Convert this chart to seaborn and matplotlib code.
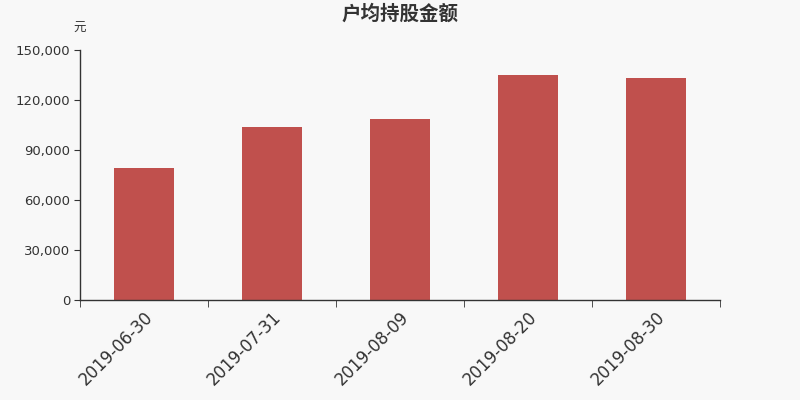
import matplotlib
matplotlib.use('Agg')
from matplotlib import pyplot as plt
from matplotlib.ticker import FuncFormatter, FixedLocator
import pandas as pd
import seaborn as sns

dates = ['2019-06-30', '2019-07-31', '2019-08-09', '2019-08-20', '2019-08-30']
amount = [79200, 103800, 108600, 135000, 133200]
yticks = [0, 30000, 60000, 90000, 120000, 150000]

df = pd.DataFrame({'date': dates, 'amount': amount})

sns.set_style('white')
plt.rcParams['font.family'] = ['DejaVu Sans', 'Noto Sans CJK SC']

bg = '#f8f8f8'
fig = plt.figure(figsize=(8, 4), dpi=100, facecolor=bg)
ax = fig.add_axes([0.1, 0.25, 0.8, 0.625], facecolor=bg)

sns.barplot(data=df, x='date', y='amount', color='#c0504d', saturation=1,
            width=0.47, linewidth=0, ax=ax)

ax.set_xlim(-0.5, len(dates) - 0.5)
ax.set_ylim(0, 150000)
ax.set_yticks(yticks)
ax.yaxis.set_major_formatter(FuncFormatter(lambda v, p: f'{int(v):,}'))
ax.tick_params(axis='y', left=True, length=4, color='#333333', labelsize=9.5,
               labelcolor='#333333', pad=3)

# category boundaries get the tick marks, labels sit at centers
ax.xaxis.set_minor_locator(FixedLocator([i - 0.5 for i in range(len(dates) + 1)]))
ax.tick_params(axis='x', which='minor', bottom=True, length=5, color='#333333')
ax.tick_params(axis='x', which='major', length=0, labelsize=12,
               labelcolor='#333333', pad=6)
for lab in ax.get_xticklabels():
    lab.set_rotation(45)
    lab.set_ha('right')
    lab.set_rotation_mode('anchor')

for side in ['top', 'right']:
    ax.spines[side].set_visible(False)
for side in ['left', 'bottom']:
    ax.spines[side].set_color('#333333')
    ax.spines[side].set_linewidth(1)

ax.set_xlabel('')
ax.set_ylabel('')
fig.text(0.5, 0.965, '户均持股金额', ha='center', va='center',
         fontsize=14, fontweight='bold', color='#333333')
fig.text(0.1, 0.93, '元', ha='center', va='center', fontsize=9, color='#333333')

fig.savefig('out.png', dpi=100, facecolor=bg)
